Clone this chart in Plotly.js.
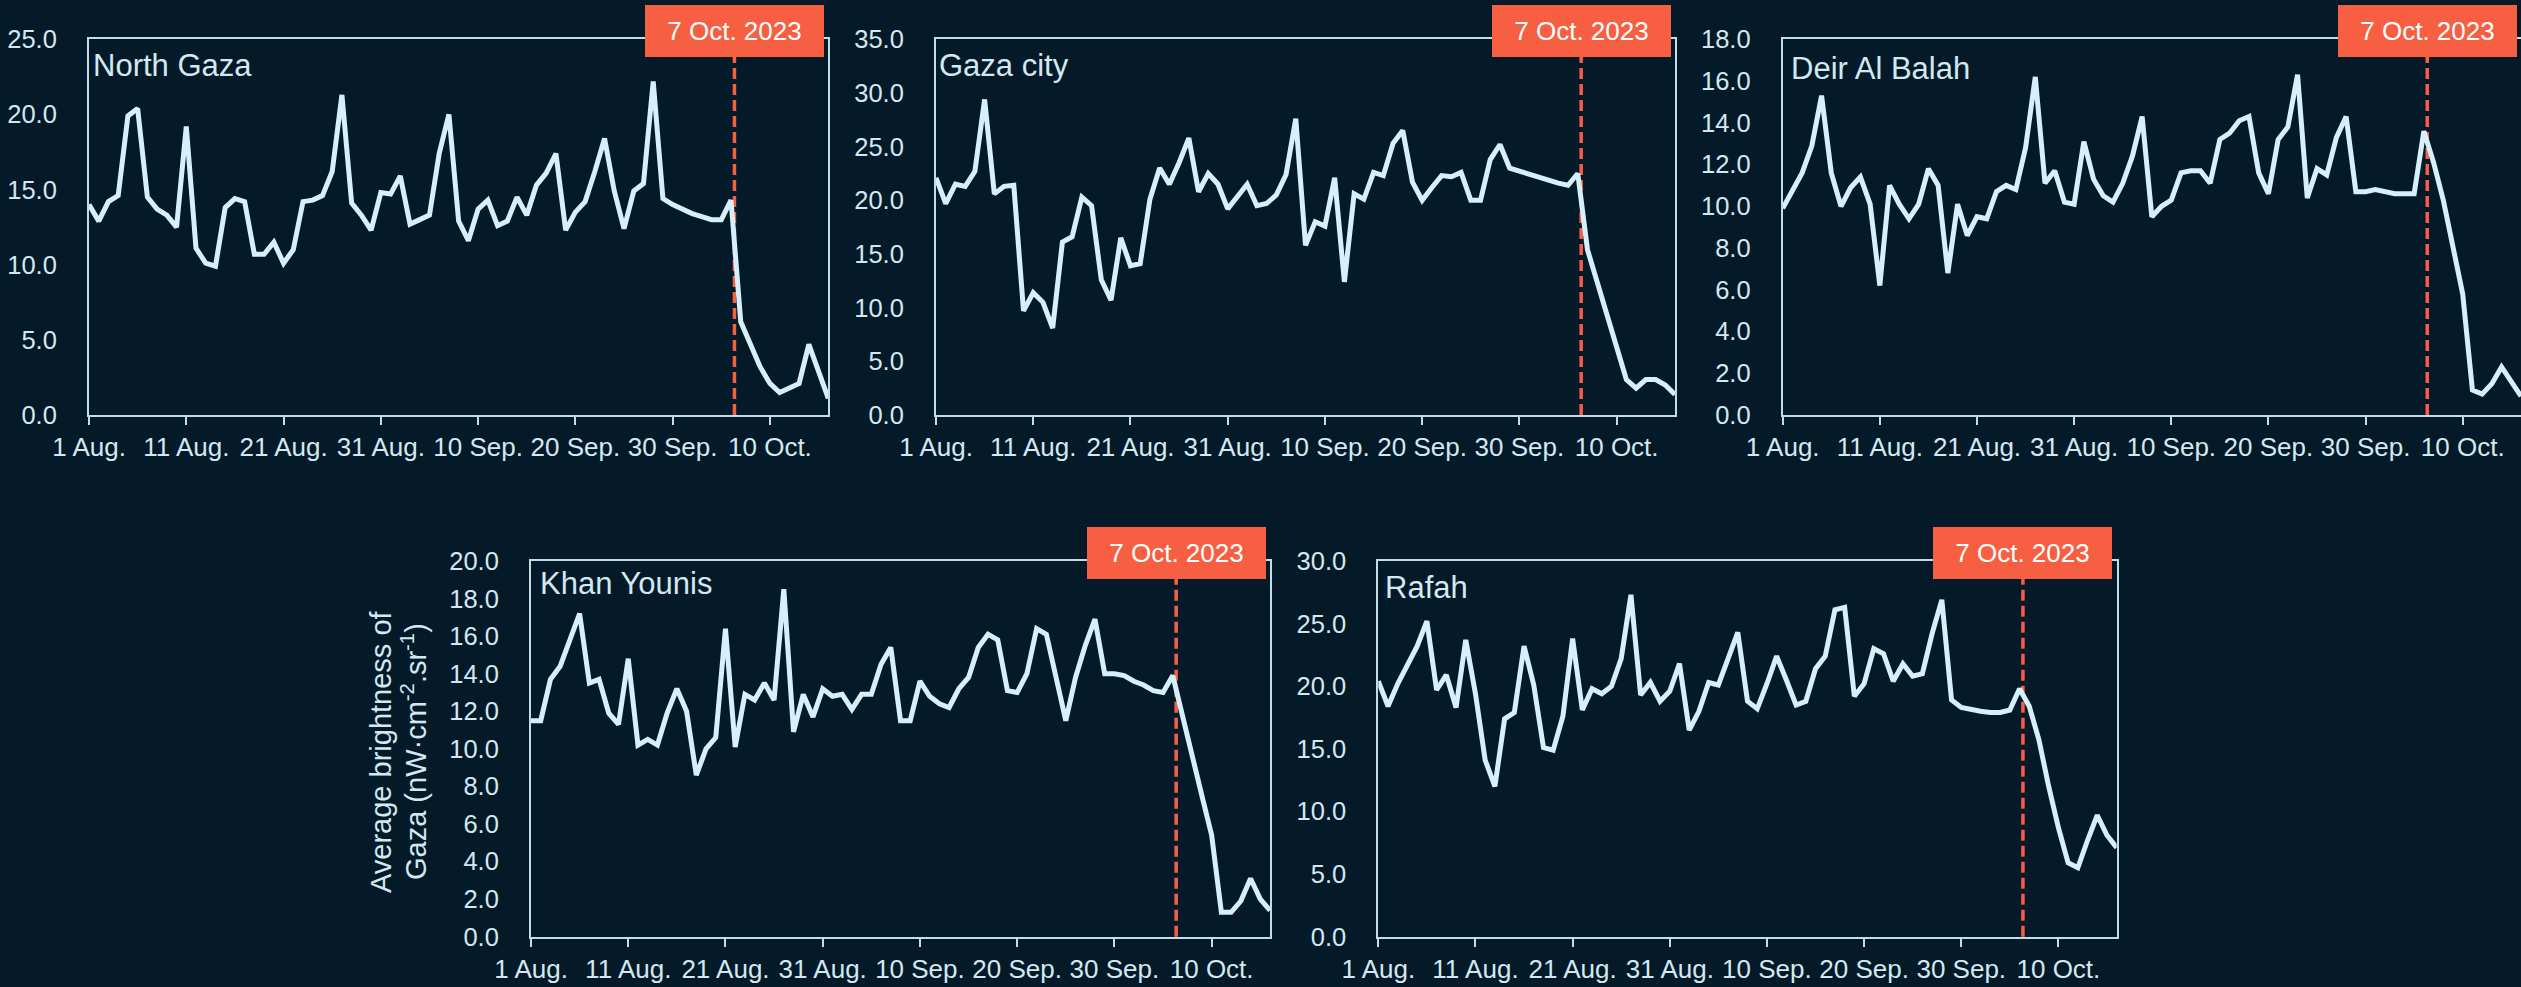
<!DOCTYPE html>
<html>
<head>
<meta charset="utf-8">
<script src="https://cdn.plot.ly/plotly-3.0.1.min.js"></script>
<style>
html,body{margin:0;padding:0;background:#041a28;}
#chart{width:2521px;height:987px;}
</style>
</head>
<body>
<div id="chart"></div>
<script>
// ---------- data ----------
const regions = ["North Gaza", "Gaza city", "Deir Al Balah", "Khan Younis", "Rafah"];
const tickDays = [0, 10, 20, 30, 40, 50, 60, 70];
const tickLabels = ["1 Aug.", "11 Aug.", "21 Aug.", "31 Aug.", "10 Sep.", "20 Sep.", "30 Sep.", "10 Oct."];
const eventLabel = "7 Oct. 2023";
const eventDay = 66.35;
const yMax = [25, 35, 18, 20, 30];
const yStep = [5, 5, 2, 2, 5];
const yTitleLines = ["Average brightness of", "Gaza (nW·cm<sup>-2</sup>.sr<sup>-1</sup>)"];

const northGaza = [14.0, 12.9, 14.2, 14.6, 19.9, 20.4, 14.5, 13.7, 13.3, 12.5,
  19.2, 11.1, 10.1, 9.9, 13.8, 14.4, 14.2, 10.7, 10.7, 11.5,
  10.1, 11.0, 14.2, 14.3, 14.6, 16.2, 21.3, 14.1, 13.3, 12.3,
  14.8, 14.7, 15.9, 12.7, 13.0, 13.3, 17.4, 20.0, 12.9, 11.6,
  13.7, 14.3, 12.6, 12.9, 14.5, 13.3, 15.3, 16.1, 17.4, 12.3,
  13.5, 14.2, 16.2, 18.4, 14.9, 12.4, 14.9, 15.4, 22.2, 14.4,
  14.0, 13.7, 13.4, 13.2, 13.0, 13.0, 14.3, 6.2, 4.7, 3.2,
  2.1, 1.5, 1.8, 2.1, 4.7, 2.8, 1.1];

const gazaCity = [22.1, 19.7, 21.5, 21.3, 22.7, 29.4, 20.6, 21.3, 21.4, 9.7,
  11.4, 10.5, 8.1, 16.1, 16.6, 20.3, 19.5, 12.6, 10.7, 16.5,
  13.9, 14.1, 20.1, 23.0, 21.5, 23.5, 25.8, 20.8, 22.5, 21.5,
  19.2, 20.3, 21.5, 19.5, 19.7, 20.5, 22.4, 27.6, 15.8, 18.0,
  17.6, 22.1, 12.4, 20.6, 20.1, 22.6, 22.3, 25.3, 26.5, 21.7,
  20.0, 21.2, 22.3, 22.2, 22.6, 20.0, 20.0, 23.8, 25.2, 23.0,
  22.7, 22.4, 22.1, 21.8, 21.6, 21.4, 22.5, 15.4, 12.3, 9.2,
  6.1, 3.3, 2.5, 3.3, 3.3, 2.8, 1.9];

const deirAlBalah = [9.9, 10.7, 11.6, 12.9, 15.3, 11.6, 10.0, 10.9, 11.4, 10.1,
  6.2, 11.0, 10.1, 9.4, 10.1, 11.8, 11.0, 6.8, 10.1, 8.6,
  9.5, 9.4, 10.7, 11.0, 10.8, 12.8, 16.2, 11.1, 11.7, 10.2,
  10.1, 13.1, 11.3, 10.5, 10.2, 11.1, 12.4, 14.3, 9.5, 10.0,
  10.3, 11.6, 11.7, 11.7, 11.1, 13.2, 13.5, 14.1, 14.3, 11.6,
  10.6, 13.2, 13.8, 16.3, 10.4, 11.8, 11.5, 13.3, 14.3, 10.7,
  10.7, 10.8, 10.7, 10.6, 10.6, 10.6, 13.6, 12.1, 10.3, 8.1,
  5.8, 1.2, 1.0, 1.5, 2.3, 1.6, 0.9];

const khanYounis = [11.5, 11.5, 13.7, 14.4, 15.8, 17.2, 13.5, 13.7, 11.9, 11.3,
  14.8, 10.2, 10.5, 10.2, 11.9, 13.2, 12.0, 8.6, 10.0, 10.6,
  16.4, 10.1, 12.9, 12.6, 13.5, 12.6, 18.5, 10.9, 12.9, 11.7,
  13.2, 12.8, 12.9, 12.1, 12.9, 12.9, 14.5, 15.4, 11.5, 11.5,
  13.6, 12.8, 12.4, 12.2, 13.2, 13.8, 15.4, 16.1, 15.8, 13.1,
  13.0, 14.0, 16.4, 16.1, 13.8, 11.5, 13.8, 15.5, 16.9, 14.0,
  14.0, 13.9, 13.6, 13.4, 13.1, 13.0, 13.9, 11.7, 9.6, 7.5,
  5.4, 1.3, 1.3, 1.9, 3.1, 2.0, 1.4];

const rafah = [20.4, 18.4, 20.2, 21.8, 23.2, 25.2, 19.7, 20.9, 18.3, 23.7,
  19.4, 14.1, 12.0, 17.4, 17.9, 23.2, 20.1, 15.1, 14.9, 17.6,
  23.8, 18.1, 19.8, 19.4, 20.0, 22.2, 27.3, 19.3, 20.3, 18.8,
  19.6, 21.8, 16.5, 18.0, 20.3, 20.1, 22.2, 24.3, 18.8, 18.2,
  20.2, 22.4, 20.5, 18.5, 18.8, 21.4, 22.4, 26.1, 26.3, 19.2,
  20.2, 23.0, 22.6, 20.4, 21.8, 20.8, 21.0, 24.2, 26.9, 18.9,
  18.3, 18.1, 18.0, 17.9, 17.9, 18.1, 19.8, 18.4, 15.7, 12.0,
  8.7, 5.9, 5.5, 7.7, 9.7, 8.1, 7.1];

const series = [northGaza, gazaCity, deirAlBalah, khanYounis, rafah];

// ---------- styling / layout ----------
const W = 2521, H = 987;
const BG = "#041a28";
const LINE = "#d5f0fb";
const AXIS = "#c3dde8";
const TEXT = "#d3e8f1";
const RED = "#f65f42";
const FONT = "Liberation Sans, Arial, Helvetica, sans-serif";

// panel boxes in pixels: [left, right, top, bottom]
const boxes = [
  [89, 828.3, 39.3, 415],
  [936, 1675, 39.3, 415],
  [1782.7, 2521, 39.3, 415],
  [531, 1270, 561, 936.7],
  [1378.3, 2116.7, 561, 936.7]
];
const titleShift = [[3.5, 26.4], [3, 26], [8.5, 29.4], [9.3, 22.3], [7, 26]];

const days = northGaza.map((_, i) => i);
const traces = [];
const layout = {
  width: W, height: H,
  margin: {l: 0, r: 0, t: 0, b: 0, pad: 0},
  paper_bgcolor: BG, plot_bgcolor: BG,
  showlegend: false,
  font: {family: FONT, color: TEXT, size: 25},
  annotations: [], shapes: []
};

series.forEach((vals, i) => {
  const n = i + 1;
  const sfx = n === 1 ? "" : String(n);
  const xa = "x" + sfx, ya = "y" + sfx;
  const b = boxes[i];
  traces.push({
    x: days, y: vals, xaxis: xa, yaxis: ya,
    type: "scatter", mode: "lines",
    line: {color: LINE, width: 5},
    hoverinfo: "skip"
  });
  layout["xaxis" + sfx] = {
    domain: [b[0] / W, Math.min(1, b[1] / W)],
    anchor: ya,
    range: [0, 76],
    tickmode: "array", tickvals: tickDays, ticktext: tickLabels,
    ticks: "outside", ticklen: 8, tickwidth: 2, tickcolor: AXIS,
    showline: true, linewidth: 2, linecolor: AXIS, mirror: true,
    showgrid: false, zeroline: false,
    tickfont: {family: FONT, size: 26, color: TEXT},
    ticklabelstandoff: 0,
    fixedrange: true
  };
  layout["yaxis" + sfx] = {
    domain: [1 - b[3] / H, 1 - b[2] / H],
    anchor: xa,
    range: [0, yMax[i]],
    tick0: 0, dtick: yStep[i], tickformat: ".1f",
    ticks: "",
    showline: true, linewidth: 2, linecolor: AXIS, mirror: true,
    showgrid: false, zeroline: false,
    tickfont: {family: FONT, size: 25.5, color: TEXT},
    ticklabelstandoff: 25,
    fixedrange: true
  };
  // event line
  layout.shapes.push({
    type: "line", xref: xa, yref: ya + " domain",
    x0: eventDay, x1: eventDay, y0: 0, y1: 1,
    line: {color: RED, width: 3.5, dash: "11px,5px"},
    layer: "below"
  });
  // event label box
  layout.annotations.push({
    xref: xa, yref: ya + " domain",
    x: eventDay, y: 1, xanchor: "center", yanchor: "middle", yshift: 8.5,
    text: eventLabel, showarrow: false,
    font: {family: FONT, size: 26, color: "#ffffff"},
    bgcolor: RED, borderwidth: 0, borderpad: 0,
    width: 179, height: 52, align: "center", valign: "middle"
  });
  // panel title
  layout.annotations.push({
    xref: xa + " domain", yref: ya + " domain",
    x: 0, y: 1, xanchor: "left", yanchor: "middle",
    xshift: titleShift[i][0], yshift: -titleShift[i][1],
    text: regions[i], showarrow: false,
    font: {family: FONT, size: 31, color: TEXT},
    borderwidth: 0, borderpad: 0
  });
});

// y-axis title (two lines, left of Khan Younis panel)
const yTitleX = [381, 414];
yTitleLines.forEach((t, k) => {
  layout.annotations.push({
    xref: "paper", yref: "paper",
    x: yTitleX[k] / W, y: 1 - 752 / H,
    xanchor: "center", yanchor: "middle",
    textangle: -90, text: t, showarrow: false,
    font: {family: FONT, size: 29, color: TEXT},
    borderwidth: 0, borderpad: 0
  });
});

Plotly.newPlot("chart", traces, layout, {staticPlot: true, displayModeBar: false});
</script>
</body>
</html>
